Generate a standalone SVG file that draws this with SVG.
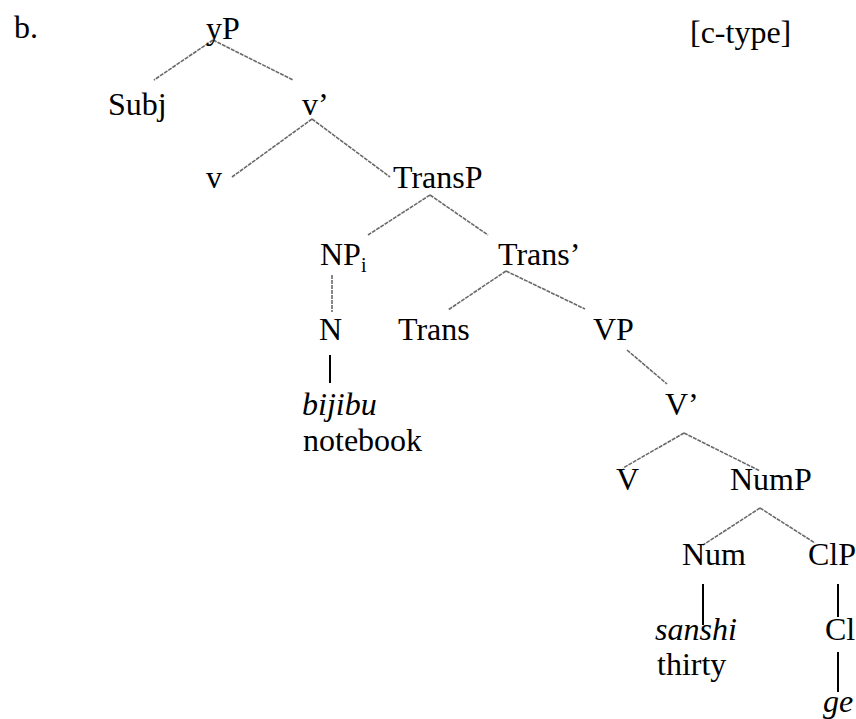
<svg xmlns="http://www.w3.org/2000/svg" width="856" height="719" viewBox="0 0 856 719">
<style>
.t{font-family:'Liberation Serif','Tinos','DejaVu Serif',serif;font-size:32px;fill:#000}
.it{font-style:italic}
.br{stroke:#6a6a6a;stroke-width:1.6;fill:none;stroke-dasharray:4 1}
.vl{stroke:#000;stroke-width:2;fill:none}
</style>
<rect width="856" height="719" fill="#fff"/>
<g id="connectors">
<line class="br" x1="213" y1="40" x2="154" y2="80"/>
<line class="br" x1="213" y1="40" x2="293" y2="80"/>
<line class="br" x1="312" y1="119" x2="232" y2="177"/>
<line class="br" x1="312" y1="119" x2="390" y2="177"/>
<line class="br" x1="430" y1="195" x2="368" y2="235"/>
<line class="br" x1="430" y1="195" x2="488" y2="235"/>
<line class="br" x1="332" y1="275" x2="332" y2="312"/>
<line class="br" x1="506" y1="271" x2="448" y2="310"/>
<line class="br" x1="506" y1="271" x2="585" y2="309"/>
<line class="br" x1="627" y1="350" x2="667" y2="384"/>
<line class="br" x1="684" y1="433" x2="623" y2="468"/>
<line class="br" x1="684" y1="433" x2="760" y2="471"/>
<line class="br" x1="760" y1="508" x2="703" y2="545"/>
<line class="br" x1="760" y1="508" x2="815" y2="543"/>
<line class="vl" x1="330" y1="355" x2="330" y2="383"/>
<line class="vl" x1="703" y1="584" x2="703" y2="625"/>
<line class="vl" x1="838" y1="584" x2="838" y2="617"/>
<line class="vl" x1="838" y1="652" x2="838" y2="692"/>
</g>
<g class="t" font-family="Liberation Serif, DejaVu Serif, serif">
<g id="label-b"><text x="14" y="38">b.</text></g>
<g id="label-ctype"><text x="690" y="43">[c-type]</text></g>
<g id="node-yP"><text x="206" y="39">yP</text></g>
<g id="node-Subj"><text x="108" y="115">Subj</text></g>
<g id="node-vbar"><text x="302" y="115">v’</text></g>
<g id="node-v"><text x="206" y="188">v</text></g>
<g id="node-TransP"><text x="393" y="188">TransP</text></g>
<g id="node-NPi"><text x="320" y="265">NP<tspan font-size="20" dy="7">i</tspan></text></g>
<g id="node-Transbar"><text x="498" y="265">Trans’</text></g>
<g id="node-N"><text x="319" y="340">N</text></g>
<g id="node-Trans"><text x="398" y="340">Trans</text></g>
<g id="node-VP"><text x="593" y="340">VP</text></g>
<g id="node-bijibu"><text class="it" x="302" y="415">bijibu</text><text x="303" y="451">notebook</text></g>
<g id="node-Vbar"><text x="665" y="415">V’</text></g>
<g id="node-V"><text x="616" y="490">V</text></g>
<g id="node-NumP"><text x="730" y="490">NumP</text></g>
<g id="node-Num"><text x="682" y="565">Num</text></g>
<g id="node-ClP"><text x="808" y="565">ClP</text></g>
<g id="node-sanshi"><text class="it" x="655" y="640">sanshi</text><text x="657" y="675">thirty</text></g>
<g id="node-Cl"><text x="825" y="640">Cl</text></g>
<g id="node-ge"><text class="it" x="823" y="712">ge</text></g>
</g>
</svg>
